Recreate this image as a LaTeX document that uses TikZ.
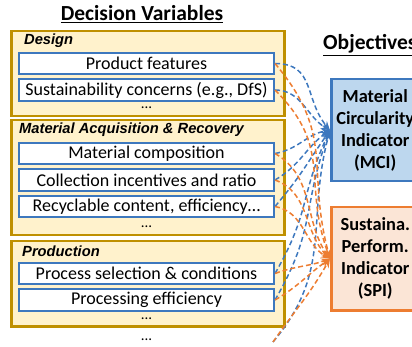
\documentclass[tikz,border=0pt]{standalone}
\usepackage{fontspec}
\setmainfont{Carlito}
\newfontfamily\arialfont{Liberation Sans}
\usepackage{tikz}
\usetikzlibrary{positioning,arrows.meta,calc}
\usepackage{xcolor}

\definecolor{grpfill}{HTML}{FFF2CC}
\definecolor{grpdraw}{HTML}{BF9000}
\definecolor{varblue}{HTML}{3D78BE}
\definecolor{mcifill}{HTML}{BDD7EE}
\definecolor{spifill}{HTML}{FBE5D6}
\definecolor{spidraw}{HTML}{ED7D31}

\begin{document}
\begin{tikzpicture}[
    x=1pt, y=-1pt,
    font=\fontsize{18}{20}\selectfont,
    >={Stealth[length=9pt, width=7pt]},
    group/.style={draw=grpdraw, line width=2.5pt, fill=grpfill, minimum width=273pt, inner sep=0pt, anchor=north west},
    grouptitle/.style={font=\arialfont\bfseries\itshape\fontsize{14.7}{17}\selectfont, anchor=west, inner sep=0pt},
    varbox/.style={draw=varblue, line width=2pt, fill=white, minimum width=255pt, minimum height=21.5pt, inner sep=0pt},
    more/.style={font=\fontsize{15}{15}\selectfont, inner sep=0pt},
    objbox/.style={line width=2.5pt, minimum width=88pt, anchor=north west, align=center, inner sep=0pt, font=\bfseries\fontsize{18.4}{22}\selectfont},
    heading/.style={font=\bfseries\fontsize{21.5}{24}\selectfont, inner sep=0pt},
    mciarrow/.style={->, line width=1.5pt, varblue, dash pattern=on 5pt off 3pt},
    spiarrow/.style={->, line width=1.5pt, spidraw, dash pattern=on 5pt off 3pt}
]
\useasboundingbox (0,0) rectangle (412,347);
\clip (0,0) rectangle (412,347);

% --- Headings ---
\node[heading] (dvtitle) at (142,14) {\underline{Decision Variables}};
\node[heading, anchor=west] (objtitle) at (323,45) {\underline{Objectives}};

% --- Design ---
\node[group, minimum height=85pt] (design) at (10,30) {};
\node[grouptitle] (designlbl) at (24,41) {Design};
\node[varbox] (pf) at (146.5,63.5) {Product features};
\node[varbox, below=3pt of pf] (sc) {Sustainability concerns (e.g., DfS)};
\node[more] (designdots) at (146.5,108) {...};

% --- Material acquisition & recovery ---
\node[group, minimum height=115pt] (matacq) at (10,119) {};
\node[grouptitle] (matacqlbl) at (19,130) {Material Acquisition \& Recovery};
\node[varbox] (mc) at (146.5,153.5) {Material composition};
\node[varbox, below=3pt of mc] (ci) {Collection incentives and ratio};
\node[varbox, below=3pt of ci] (rc) {Recyclable content, efficiency\dots};
\node[more] (matacqdots) at (146.5,227) {...};

% --- Production ---
\node[group, minimum height=85pt] (prod) at (10,240) {};
\node[grouptitle] (prodlbl) at (22,251) {Production};
\node[varbox] (ps) at (146.5,273.5) {Process selection \& conditions};
\node[varbox, below=3pt of ps] (pe) {Processing efficiency};
\node[more] (proddots) at (146.5,319) {...};

\node[more] (alldots) at (146.5,340) {...};
\coordinate (allend) at (273,342);

% --- Objectives ---
\node[objbox, draw=varblue, fill=mcifill, minimum height=102pt] (mci) at (330,78)
    {Material\\Circularity\\Indicator\\(MCI)};
\node[objbox, draw=spidraw, fill=spifill, minimum height=103pt] (spi) at (330,206)
    {Sustaina.\\Perform.\\Indicator\\(SPI)};

% --- Links to MCI ---
\draw[mciarrow] (pf.east) to[out=0, in=130, looseness=1.2] (mci.west);
\draw[mciarrow] (sc.east) to[out=0, in=150] (mci.west);
\draw[mciarrow] (mc.east) to[out=10, in=190] (mci.west);
\draw[mciarrow] (ci.east) to[out=30, in=215] (mci.west);
\draw[mciarrow] (rc.east) to[out=50, in=235, looseness=1.2] (mci.west);
\draw[mciarrow] (ps.east) to[out=60, in=245, looseness=1.2] (mci.west);
\draw[mciarrow] (pe.east) to[out=60, in=250, looseness=1.2] (mci.west);
\draw[mciarrow] (allend) to[out=50, in=255, looseness=1.1] (mci.west);

% --- Links to SPI ---
\draw[spiarrow] (pf.east) to[out=-50, in=105, looseness=1.2] (spi.west);
\draw[spiarrow] (sc.east) to[out=-45, in=110, looseness=1.2] (spi.west);
\draw[spiarrow] (mc.east) to[out=-30, in=125] (spi.west);
\draw[spiarrow] (ci.east) to[out=-20, in=135] (spi.west);
\draw[spiarrow] (rc.east) to[out=-10, in=150] (spi.west);
\draw[spiarrow] (ps.east) to[out=20, in=200] (spi.west);
\draw[spiarrow] (pe.east) to[out=30, in=215] (spi.west);
\draw[spiarrow] (allend) to[out=55, in=240, looseness=1.1] (spi.west);

\end{tikzpicture}
\end{document}
